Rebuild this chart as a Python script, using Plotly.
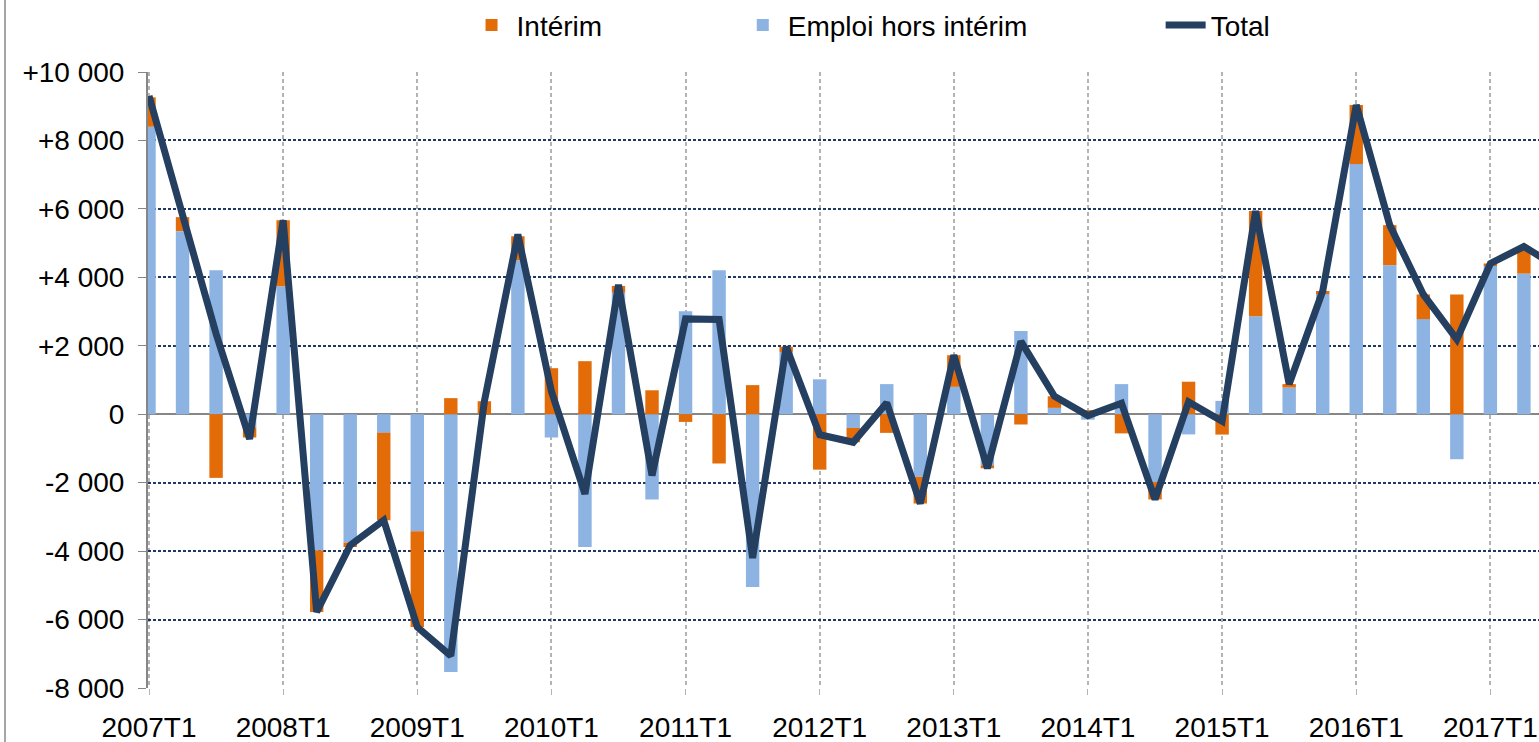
import plotly.graph_objects as go

_FONT = "Liberation Sans, Arial, sans-serif"
_ORANGE = "#E36C09"
_BLUE = "#8DB3E2"
_NAVY = "#243F60"
_GRID_H = "#1F3864"
_GRID_V = "#B4B4B4"
_AXIS = "#868686"

quarters = [
    "2007T1", "2007T2", "2007T3", "2007T4",
    "2008T1", "2008T2", "2008T3", "2008T4",
    "2009T1", "2009T2", "2009T3", "2009T4",
    "2010T1", "2010T2", "2010T3", "2010T4",
    "2011T1", "2011T2", "2011T3", "2011T4",
    "2012T1", "2012T2", "2012T3", "2012T4",
    "2013T1", "2013T2", "2013T3", "2013T4",
    "2014T1", "2014T2", "2014T3", "2014T4",
    "2015T1", "2015T2", "2015T3", "2015T4",
    "2016T1", "2016T2", "2016T3", "2016T4",
    "2017T1", "2017T2", "2017T3",
]

# emploi hors intérim (blue bars)
emploi = [
    8400, 5350, 4210, -380,
    3740, -3980, -3750, -545,
    -3420, -7530, 0, 4500,
    -680, -3880, 3550, -2490,
    3010, 4210, -5050, 1820,
    1020, -400, 880, -1830,
    800, -1490, 2430, 185,
    -160, 880, -1980, -590,
    390, 2865, 780, 3510,
    7310, 4355, 2780, -1315,
    4330, 4110,
]

# intérim (orange bars)
interim = [
    860, 410, -1860, -300,
    1930, -1800, -130, -2555,
    -2800, 470, 380, 700,
    1345, 1550, 200, 700,
    -225, -1440, 850, 150,
    -1620, -420, -545, -780,
    925, -90, -300, 340,
    120, -560, -510, 950,
    -595, 3070, 100, 90,
    1725, 1170, 720, 3500,
    75, 790,
]

total = [
    9300, 5760, 2350, -720,
    5670, -5780, -3830, -3100,
    -6220, -7060, 380, 5250,
    665, -2330, 3780, -1790,
    2785, 2770, -4200, 1970,
    -600, -820, 335, -2610,
    1725, -1580, 2130, 525,
    -40, 320, -2490, 360,
    -205, 5935, 880, 3600,
    9035, 5525, 3500, 2185,
    4405, 4900, 4300,
]

x_ticks = ["2007T1", "2008T1", "2009T1", "2010T1", "2011T1", "2012T1",
           "2013T1", "2014T1", "2015T1", "2016T1", "2017T1"]
y_ticks = [10000, 8000, 6000, 4000, 2000, 0, -2000, -4000, -6000, -8000]
y_labels = ["+10 000", "+8 000", "+6 000", "+4 000", "+2 000", "0",
            "-2 000", "-4 000", "-6 000", "-8 000"]

n_bars = len(emploi)

fig = go.Figure()
fig.add_trace(go.Bar(
    x=quarters[:n_bars], y=emploi, name="Emploi hors intérim",
    marker=dict(color=_BLUE, line=dict(width=0)),
    legend="legend2", showlegend=True,
))
fig.add_trace(go.Bar(
    x=quarters[:n_bars], y=interim, name="Intérim",
    marker=dict(color=_ORANGE, line=dict(width=0)),
    legend="legend", showlegend=True,
))
fig.add_trace(go.Scatter(
    x=quarters, y=total, name="Total", mode="lines",
    line=dict(color=_NAVY, width=7),
    legend="legend3", showlegend=True,
))

_leg = dict(
    orientation="h", yanchor="middle", y=1.076, xanchor="left",
    bgcolor="rgba(0,0,0,0)", font=dict(family=_FONT, size=28, color="#000"),
    itemwidth=40, visible=True,
)

fig.update_layout(
    width=1539, height=742,
    paper_bgcolor="white", plot_bgcolor="white",
    font=dict(family=_FONT, size=28, color="#000"),
    margin=dict(l=148, r=0, t=72, b=54, autoexpand=False),
    barmode="relative",
    bargap=0.6,
    showlegend=True,
    legend={**_leg, "x": 0.229},
    legend2={**_leg, "x": 0.424},
    legend3={**_leg, "x": 0.728},
    shapes=[dict(
        type="line", xref="paper", yref="paper",
        x0=-0.1028, x1=-0.1028, y0=-0.1, y1=1.2,
        line=dict(color="#A6A6A6", width=2),
    )],
)
fig.update_xaxes(
    type="category",
    categoryorder="array", categoryarray=quarters,
    range=[-0.03, 41.45],
    tickvals=x_ticks, ticktext=x_ticks,
    showgrid=True, gridcolor=_GRID_V, gridwidth=1.5, griddash="4px,3px",
    ticks="outside", ticklen=6, tickcolor=_GRID_V,
    ticklabelstandoff=8,
    showline=False, zeroline=False,
    tickfont=dict(family=_FONT, size=28, color="#000"),
)
fig.update_yaxes(
    range=[-8000, 10000],
    tickvals=y_ticks, ticktext=y_labels,
    showgrid=True, gridcolor=_GRID_H, gridwidth=2, griddash="3px,2px",
    zeroline=True, zerolinecolor=_AXIS, zerolinewidth=2,
    showline=True, linecolor=_AXIS, linewidth=2,
    ticks="outside", ticklen=8, tickcolor=_AXIS,
    ticklabelstandoff=8,
    tickfont=dict(family=_FONT, size=28, color="#000"),
)

fig.write_html(
    "out.html",
    config={"displayModeBar": False},
    post_script="document.body.style.margin='0';",
)
